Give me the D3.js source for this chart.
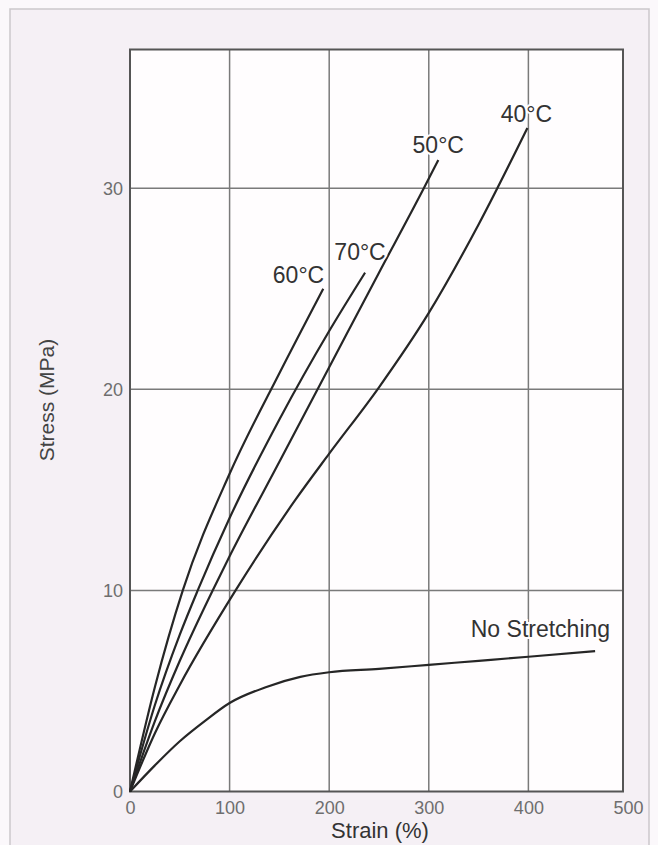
<!DOCTYPE html>
<html>
<head>
<meta charset="utf-8">
<script src="https://cdn.jsdelivr.net/npm/d3@7"></script>
<style>
  html, body { margin: 0; padding: 0; background: #fbf8fb; }
  svg { display: block; font-family: "Liberation Sans", Arial, sans-serif; }
</style>
</head>
<body>
<svg id="chart" width="658" height="845"></svg>
<script>
// strain (%) / stress (MPa)
const strain40 = [0, 25, 50, 106, 166, 200, 250, 300, 350, 399];
const stress40 = [0, 2.9, 5.3, 10, 14.5, 16.8, 20.1, 23.8, 28.2, 33.0];
const strain50 = [0, 25, 50, 83, 100, 150, 200, 250, 295, 309.5];
const stress50 = [0, 3.5, 6.5, 10, 11.7, 16.4, 21.1, 25.8, 30, 31.4];
const strain60 = [0, 25, 53, 100, 150, 194];
const stress60 = [0, 5.2, 10, 15.8, 20.8, 25.0];
const strain70 = [0, 25, 50, 68, 100, 150, 200, 236];
const stress70 = [0, 4.3, 7.8, 10, 13.6, 18.5, 22.9, 25.8];
const strainNS = [0, 25, 50, 75, 100, 137, 171, 200, 250, 300, 350, 400, 467];
const stressNS = [0, 1.3, 2.5, 3.5, 4.4, 5.2, 5.7, 5.93, 6.1, 6.3, 6.5, 6.7, 6.98];

const seriesNames = ['40°C', '50°C', '60°C', '70°C', 'No Stretching'];
const xTicks = [0, 100, 200, 300, 400, 500];
const yTicks = [0, 10, 20, 30];

const series = [
  {name: seriesNames[0], xs: strain40, ys: stress40},
  {name: seriesNames[1], xs: strain50, ys: stress50},
  {name: seriesNames[2], xs: strain60, ys: stress60},
  {name: seriesNames[3], xs: strain70, ys: stress70},
  {name: seriesNames[4], xs: strainNS, ys: stressNS}
];

// label placement relative to the end of each curve
const labelPos = {
  '40°C': {dx: -1, dy: -6, anchor: 'middle'},
  '50°C': {dx: 0, dy: -7, anchor: 'middle'},
  '60°C': {dx: 1, dy: -6, anchor: 'end'},
  '70°C': {dx: -5, dy: -13, anchor: 'middle'},
  'No Stretching': {dx: 15, dy: -14, anchor: 'end'}
};

const svg = d3.select('#chart');

// outer frame
svg.append('rect')
  .attr('x', 10).attr('y', 9)
  .attr('width', 639).attr('height', 900)
  .attr('fill', '#f5f0f5')
  .attr('stroke', '#cbc7cb')
  .attr('stroke-width', 1.5);

const x = d3.scaleLinear().domain([0, 495]).range([130, 623]),
  y = d3.scaleLinear().domain([0, 36.9]).range([791.5, 49.5]);

// plot background
svg.append('rect')
  .attr('x', x(0)).attr('y', y(36.9))
  .attr('width', x(495) - x(0)).attr('height', y(0) - y(36.9))
  .attr('fill', '#fffdfe');

// grid
svg.append('g')
  .selectAll('line')
  .data(xTicks.filter(d => d > 0 && d < 495))
  .enter().append('line')
  .attr('x1', d => x(d)).attr('x2', d => x(d))
  .attr('y1', y(0)).attr('y2', y(36.9))
  .attr('stroke', '#7a7a7a').attr('stroke-width', 1.5);

svg.append('g')
  .selectAll('line')
  .data(yTicks.filter(d => d > 0))
  .enter().append('line')
  .attr('x1', x(0)).attr('x2', x(495))
  .attr('y1', d => y(d)).attr('y2', d => y(d))
  .attr('stroke', '#7a7a7a').attr('stroke-width', 1.5);

// frame of the plot
svg.append('rect')
  .attr('x', x(0)).attr('y', y(36.9))
  .attr('width', x(495) - x(0)).attr('height', y(0) - y(36.9))
  .attr('fill', 'none')
  .attr('stroke', '#555')
  .attr('stroke-width', 2);

// axes (labels only)
const xAxis = svg.append('g')
  .attr('transform', 'translate(0,' + (y(0) + 10) + ')')
  .call(d3.axisBottom(x).tickValues(xTicks).tickSize(0).tickPadding(0));
xAxis.select('.domain').remove();
xAxis.selectAll('text')
  .attr('font-family', '"Liberation Sans", Arial, sans-serif')
  .attr('font-size', 18)
  .attr('fill', '#6e6e6e');

const yAxis = svg.append('g')
  .attr('transform', 'translate(' + (x(0) - 7) + ',0)')
  .call(d3.axisLeft(y).tickValues(yTicks).tickSize(0).tickPadding(0));
yAxis.select('.domain').remove();
yAxis.selectAll('text')
  .attr('font-family', '"Liberation Sans", Arial, sans-serif')
  .attr('font-size', 18)
  .attr('fill', '#6e6e6e');

// axis titles
svg.append('text')
  .attr('x', 380).attr('y', 838)
  .attr('text-anchor', 'middle')
  .attr('font-size', 22)
  .attr('fill', '#333')
  .text('Strain (%)');

svg.append('text')
  .attr('transform', 'translate(54,400) rotate(-90)')
  .attr('text-anchor', 'middle')
  .attr('font-size', 21)
  .attr('fill', '#444')
  .text('Stress (MPa)');

// curves
const line = d3.line()
  .x(d => x(d[0]))
  .y(d => y(d[1]))
  .curve(d3.curveMonotoneX);

series.forEach(function (s) {
  const pts = s.xs.map((v, i) => [v, s.ys[i]]);
  svg.append('path')
    .datum(pts)
    .attr('d', line)
    .attr('fill', 'none')
    .attr('stroke', '#262626')
    .attr('stroke-width', 2.2);

  const last = pts[pts.length - 1],
    p = labelPos[s.name];
  svg.append('text')
    .attr('x', x(last[0]) + p.dx)
    .attr('y', y(last[1]) + p.dy)
    .attr('text-anchor', p.anchor)
    .attr('font-size', 23)
    .attr('fill', '#333')
    .attr('stroke', '#fffdfe')
    .attr('stroke-width', 4)
    .attr('paint-order', 'stroke')
    .text(s.name);
});
</script>
</body>
</html>
